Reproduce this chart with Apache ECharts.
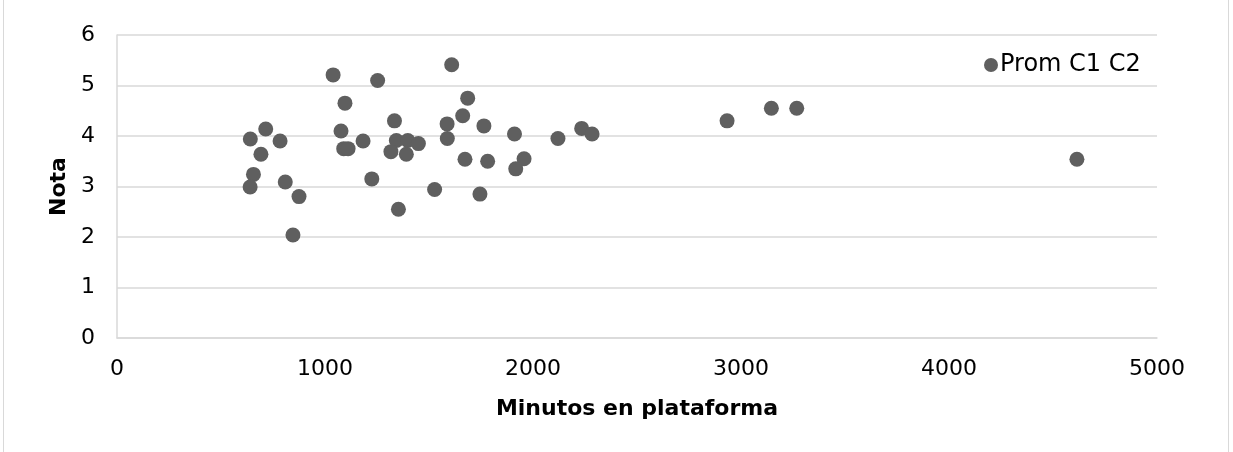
<!DOCTYPE html>
<html>
<head>
<meta charset="utf-8">
<script src="https://cdn.jsdelivr.net/npm/echarts@6/dist/echarts.min.js"></script>
<style>
  html, body { margin: 0; padding: 0; background: #fff; }
  #wrap { position: relative; width: 1233px; height: 452px; }
  #frame { position: absolute; left: 3px; top: 0; width: 1226px; height: 452px; border-left: 1px solid #d9d9d9; border-right: 1px solid #d9d9d9; box-sizing: border-box; }
  #chart { position: absolute; left: 0; top: 0; width: 1233px; height: 452px; }
</style>
</head>
<body>
<div id="wrap"><div id="frame"></div><div id="chart"></div></div>
<script>
const seriesName = 'Prom C1 C2';
const xTitle = 'Minutos en plataforma';
const yTitle = 'Nota';
const minutos = [641, 715, 784, 692, 656, 640, 809, 875, 846, 1039, 1096, 1077, 1090, 1111, 1183, 1225, 1253, 1334, 1343, 1317, 1398, 1449, 1391, 1353, 1609, 1686, 1662, 1587, 1588, 1764, 1673, 1782, 1527, 1745, 1911, 1957, 1917, 2120, 2234, 2284, 2933, 3146, 3268, 4615];
const notas =   [3.94, 4.14, 3.90, 3.64, 3.24, 2.99, 3.09, 2.80, 2.04, 5.21, 4.65, 4.10, 3.75, 3.75, 3.90, 3.15, 5.10, 4.30, 3.91, 3.69, 3.91, 3.85, 3.64, 2.55, 5.41, 4.75, 4.40, 4.24, 3.95, 4.20, 3.54, 3.50, 2.94, 2.85, 4.04, 3.55, 3.35, 3.95, 4.15, 4.04, 4.30, 4.55, 4.55, 3.54];
const xTicks = [0, 1000, 2000, 3000, 4000, 5000];
const yTicks = [0, 1, 2, 3, 4, 5, 6];

const data = minutos.map((m, i) => [m, notas[i]]);
const font = 'DejaVu Sans, Verdana, sans-serif';
const chart = echarts.init(document.getElementById('chart'));
chart.setOption({
  animation: false,
  grid: { left: 117, right: 76, top: 35, bottom: 114, containLabel: false },
  legend: {
    data: [seriesName], left: 979, top: 48, icon: 'circle', itemWidth: 14, itemHeight: 14, itemGap: 4,
    textStyle: { fontFamily: font, fontSize: 24, color: '#000', padding: [0, 0, 0, -3] }
  },
  xAxis: {
    type: 'value', min: xTicks[0], max: xTicks[xTicks.length - 1], interval: 1000,
    name: xTitle, nameLocation: 'middle', nameGap: 60,
    nameTextStyle: { fontFamily: font, fontSize: 22, fontWeight: 'bold', color: '#000' },
    axisLine: { show: true, lineStyle: { color: '#d9d9d9', width: 1.5 } },
    axisTick: { show: false },
    axisLabel: { fontFamily: font, fontSize: 22, color: '#000', margin: 20, formatter: v => String(v) },
    splitLine: { show: false }
  },
  yAxis: {
    type: 'value', min: yTicks[0], max: yTicks[yTicks.length - 1], interval: 1,
    name: yTitle, nameLocation: 'middle', nameGap: 47, nameRotate: 90,
    nameTextStyle: { fontFamily: font, fontSize: 22, fontWeight: 'bold', color: '#000' },
    axisLine: { show: true, lineStyle: { color: '#d9d9d9', width: 1.5 } },
    axisTick: { show: false },
    axisLabel: { fontFamily: font, fontSize: 22, color: '#000', margin: 22 },
    splitLine: { show: true, lineStyle: { color: '#d9d9d9', width: 1.5 } }
  },
  series: [{
    name: seriesName, type: 'scatter', data: data, symbol: 'circle', symbolSize: 15,
    itemStyle: { color: '#5f5f5f', opacity: 1 }
  }]
});
</script>
</body>
</html>
